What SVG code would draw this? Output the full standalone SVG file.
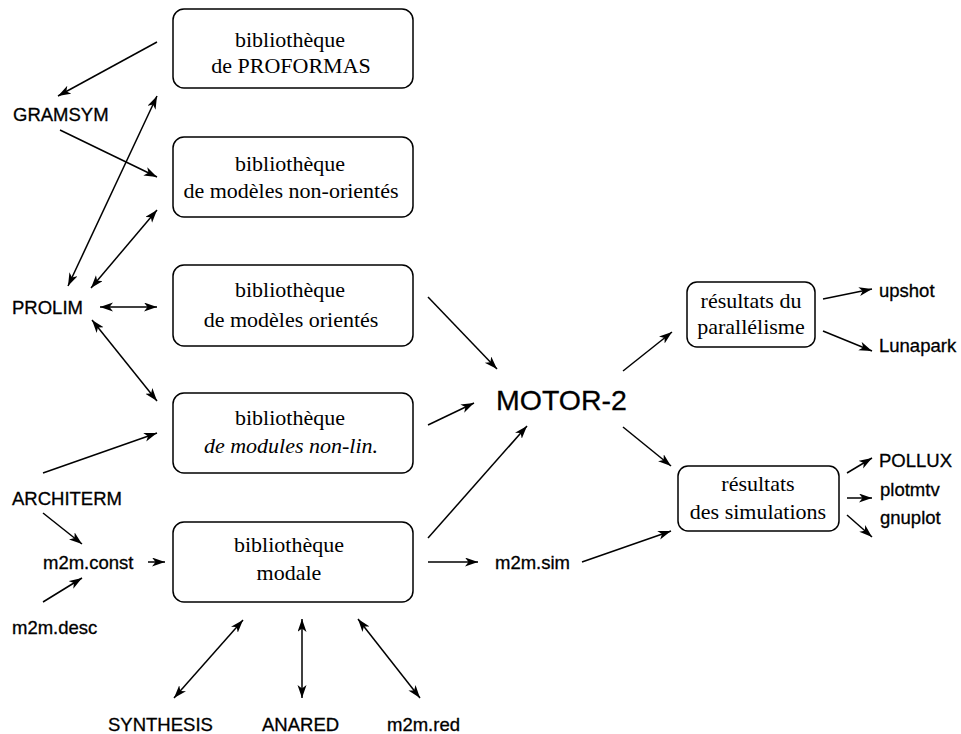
<svg xmlns="http://www.w3.org/2000/svg" width="961" height="734" viewBox="0 0 961 734">
<style>
.box{fill:#fff;stroke:#000;stroke-width:1.5}
.bt{font-family:"Liberation Serif","Times New Roman",serif;font-size:22px;fill:#000;text-anchor:middle}
.lb{font-family:"Liberation Sans",Arial,sans-serif;font-size:18.5px;fill:#000;stroke:#000;stroke-width:0.3}
.ln{stroke:#000;stroke-width:1.5;fill:none;marker-end:url(#ah)}
.dl{stroke:#000;stroke-width:1.5;fill:none;marker-end:url(#ah);marker-start:url(#ah)}
</style>
<defs>
<marker id="ah" markerUnits="userSpaceOnUse" markerWidth="14" markerHeight="10" refX="13" refY="4.5" orient="auto-start-reverse">
<path d="M0,0 L13,4.5 L0,9 L3.5,4.5 z" fill="#000"/>
</marker>
</defs>
<rect width="961" height="734" fill="#fff"/>
<g id="connectors">
<line class="ln" x1="157" y1="42" x2="58" y2="96"/>
<line class="ln" x1="60" y1="130" x2="157" y2="177"/>
<line class="dl" x1="68" y1="286" x2="157" y2="96"/>
<line class="dl" x1="91" y1="288" x2="157" y2="210"/>
<line class="dl" x1="100" y1="307" x2="157" y2="307"/>
<line class="dl" x1="92" y1="320" x2="157" y2="401"/>
<line class="ln" x1="43" y1="473" x2="157" y2="433"/>
<line class="ln" x1="43" y1="513" x2="82" y2="544"/>
<line class="ln" x1="43" y1="602" x2="82" y2="578"/>
<line class="ln" x1="148" y1="562" x2="165" y2="562"/>
<line class="dl" x1="243" y1="620" x2="174" y2="698"/>
<line class="dl" x1="302" y1="619" x2="302" y2="698"/>
<line class="dl" x1="358" y1="619" x2="420" y2="698"/>
<line class="ln" x1="428" y1="562" x2="478" y2="562"/>
<line class="ln" x1="428" y1="538" x2="527" y2="426"/>
<line class="ln" x1="428" y1="425" x2="474" y2="403"/>
<line class="ln" x1="428" y1="297" x2="497" y2="369"/>
<line class="ln" x1="623" y1="371" x2="672" y2="332"/>
<line class="ln" x1="623" y1="427" x2="671" y2="466"/>
<line class="ln" x1="582" y1="562" x2="671" y2="531"/>
<line class="ln" x1="823" y1="299" x2="872" y2="289"/>
<line class="ln" x1="823" y1="331" x2="872" y2="351"/>
<line class="ln" x1="847" y1="473" x2="872" y2="458"/>
<line class="ln" x1="847" y1="498" x2="872" y2="498"/>
<line class="ln" x1="847" y1="515" x2="872" y2="537"/>
</g>
<g id="proformas">
<rect class="box" x="173" y="9" width="240" height="79" rx="11"/>
<text class="bt" x="290" y="47">bibliothèque</text>
<text class="bt" x="291" y="73">de PROFORMAS</text>
</g>
<g id="nonorientes">
<rect class="box" x="173" y="137" width="240" height="80" rx="11"/>
<text class="bt" x="290" y="171">bibliothèque</text>
<text class="bt" x="291" y="198">de modèles non-orientés</text>
</g>
<g id="orientes">
<rect class="box" x="173" y="265" width="240" height="81" rx="11"/>
<text class="bt" x="290" y="297">bibliothèque</text>
<text class="bt" x="291" y="327">de modèles orientés</text>
</g>
<g id="nonlin">
<rect class="box" x="173" y="393" width="240" height="80" rx="11"/>
<text class="bt" x="290" y="425">bibliothèque</text>
<text class="bt" x="291" y="453" font-style="italic">de modules non-lin.</text>
</g>
<g id="modale">
<rect class="box" x="173" y="522" width="240" height="80" rx="11"/>
<text class="bt" x="289" y="552">bibliothèque</text>
<text class="bt" x="289" y="580">modale</text>
</g>
<g id="parallelisme">
<rect class="box" x="687" y="282" width="128" height="65" rx="10"/>
<text class="bt" x="751" y="308">résultats du</text>
<text class="bt" x="751" y="334">parallélisme</text>
</g>
<g id="simulations">
<rect class="box" x="678" y="466" width="161" height="65" rx="10"/>
<text class="bt" x="758" y="491">résultats</text>
<text class="bt" x="758" y="519">des simulations</text>
</g>
<g id="motor2"><text class="lb" x="496" y="410" style="font-size:28.5px">MOTOR-2</text></g>
<g id="gramsym"><text class="lb" x="13" y="121">GRAMSYM</text></g>
<g id="prolim"><text class="lb" x="12" y="314">PROLIM</text></g>
<g id="architerm"><text class="lb" x="12" y="505">ARCHITERM</text></g>
<g id="m2mconst"><text class="lb" x="43" y="569">m2m.const</text></g>
<g id="m2mdesc"><text class="lb" x="12" y="634">m2m.desc</text></g>
<g id="synthesis"><text class="lb" x="108" y="731">SYNTHESIS</text></g>
<g id="anared"><text class="lb" x="262" y="731">ANARED</text></g>
<g id="m2mred"><text class="lb" x="387" y="731">m2m.red</text></g>
<g id="m2msim"><text class="lb" x="495" y="569">m2m.sim</text></g>
<g id="upshot"><text class="lb" x="879" y="297">upshot</text></g>
<g id="lunapark"><text class="lb" x="879" y="352">Lunapark</text></g>
<g id="pollux"><text class="lb" x="879" y="467">POLLUX</text></g>
<g id="plotmtv"><text class="lb" x="880" y="496">plotmtv</text></g>
<g id="gnuplot"><text class="lb" x="880" y="524">gnuplot</text></g>
</svg>
